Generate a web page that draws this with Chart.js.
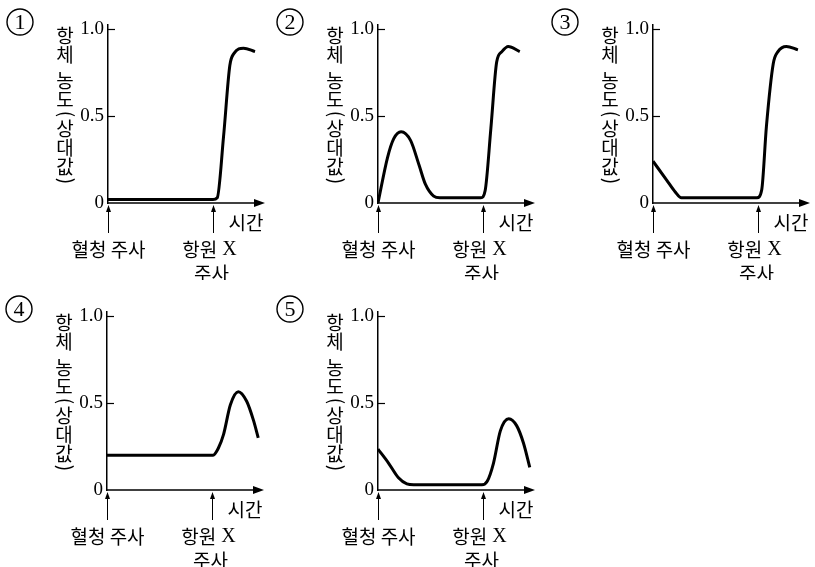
<!DOCTYPE html>
<html lang="ko">
<head>
<meta charset="utf-8">
<script src="https://cdn.jsdelivr.net/npm/chart.js@4.4.1/dist/chart.umd.min.js"></script>
<style>
  html, body { margin: 0; padding: 0; background: #fff; }
  #wrap { position: relative; width: 815px; height: 567px; overflow: hidden; }
  canvas { position: absolute; }
</style>
</head>
<body>
<div id="wrap">
  <canvas id="c1" width="270" height="280" style="left:0px;top:0px"></canvas>
  <canvas id="c2" width="270" height="280" style="left:270px;top:0px"></canvas>
  <canvas id="c3" width="270" height="280" style="left:545px;top:0px"></canvas>
  <canvas id="c4" width="270" height="280" style="left:-1px;top:287px"></canvas>
  <canvas id="c5" width="270" height="280" style="left:270px;top:287px"></canvas>
</div>
<script>
// labels
const panelNumbers = ["1", "2", "3", "4", "5"];
const yTicks = [0, 0.5, 1.0];
const yTitle = "항체 농도(상대값)";
const xTitle = "시간";
const eventTimes = [0, 10];             // 혈청 주사, 항원 X 주사
const eventLabels = [["혈청 주사"], ["항원 X", "주사"]];

// curves: time (arbitrary units) vs relative antibody concentration
const time1 = [0, 10, 10.4, 11.0, 11.6, 12.0, 12.9, 14.0];
const conc1 = [0.02, 0.02, 0.03, 0.38, 0.79, 0.86, 0.89, 0.87];

const time2 = [0, 0.9, 1.5, 2.2, 3.1, 3.9, 4.5, 5.3, 5.9, 9.8, 10.2, 10.75, 11.3, 11.8, 12.4, 13.5];
const conc2 = [0, 0.26, 0.37, 0.41, 0.36, 0.22, 0.11, 0.04, 0.03, 0.03, 0.07, 0.43, 0.81, 0.87, 0.90, 0.87];

const time3 = [0, 1.3, 2.1, 2.7, 9.9, 10.35, 10.8, 11.45, 11.9, 12.7, 13.8];
const conc3 = [0.24, 0.132, 0.065, 0.03, 0.03, 0.075, 0.44, 0.80, 0.87, 0.90, 0.88];

const time4 = [0, 10.1, 10.6, 11.1, 11.75, 12.5, 13.3, 13.95, 14.4];
const conc4 = [0.2, 0.2, 0.24, 0.32, 0.49, 0.565, 0.51, 0.40, 0.30];

const time5 = [0, 1.0, 1.95, 2.75, 3.4, 9.9, 10.4, 11.0, 11.65, 12.45, 13.2, 13.85, 14.45];
const conc5 = [0.235, 0.155, 0.07, 0.035, 0.03, 0.03, 0.05, 0.155, 0.34, 0.41, 0.37, 0.27, 0.13];

const curves = [[time1, conc1], [time2, conc2], [time3, conc3], [time4, conc4], [time5, conc5]];

const serif = "'Liberation Serif', 'DejaVu Serif', serif";
const hangul = "'Noto Sans CJK KR', 'Noto Sans', sans-serif";

// axes, arrows, vertical title, event markers
const decorations = {
  id: "decorations",
  afterDraw(chart, args, opts) {
    const { ctx, chartArea, scales: { x, y } } = chart;
    const xa = x.getPixelForValue(0);
    const y0 = y.getPixelForValue(0);
    ctx.save();
    ctx.strokeStyle = "#000";
    ctx.fillStyle = "#000";

    // short inner ticks on the y axis
    ctx.lineWidth = 1.2;
    yTicks.filter(v => v > 0).forEach(v => {
      const py = Math.round(y.getPixelForValue(v)) + 0.5;
      ctx.beginPath();
      ctx.moveTo(xa, py);
      ctx.lineTo(xa + 7, py);
      ctx.stroke();
    });

    // time axis with arrow head
    const tip = chartArea.right;
    ctx.lineWidth = 1.5;
    ctx.beginPath();
    ctx.moveTo(xa - 1, y0);
    ctx.lineTo(tip - 6, y0);
    ctx.stroke();
    ctx.beginPath();
    ctx.moveTo(tip, y0);
    ctx.lineTo(tip - 11, y0 - 4);
    ctx.lineTo(tip - 11, y0 + 4);
    ctx.closePath();
    ctx.fill();

    ctx.font = "19px " + hangul;
    ctx.textAlign = "center";
    ctx.textBaseline = "middle";
    ctx.fillText(xTitle, xa + 138, y0 + 20);

    // injection markers
    eventTimes.forEach((t, i) => {
      const px = Math.round(x.getPixelForValue(t)) + 0.5;
      ctx.lineWidth = 1;
      ctx.beginPath();
      ctx.moveTo(px, y0 + 6);
      ctx.lineTo(px, y0 + 30);
      ctx.stroke();
      ctx.beginPath();
      ctx.moveTo(px, y0 + 2);
      ctx.lineTo(px - 2.5, y0 + 9);
      ctx.lineTo(px + 2.5, y0 + 9);
      ctx.closePath();
      ctx.fill();
      eventLabels[i].forEach((line, j) => {
        const dx = i === 0 ? 0 : (j === 0 ? -4 : -2);
        drawMixed(ctx, line, px + dx, y0 + 47 + j * 24);
      });
    });

    // vertical y title
    const tx = xa - 43;
    let ty = chartArea.top + 1;
    ctx.font = "19px " + hangul;
    for (const ch of yTitle) {
      if (ch === " ") { ty += 7; continue; }
      const paren = ch === "(" || ch === ")";
      const adv = paren ? 10 : 19;
      const cy = ty + adv / 2;
      if (paren) {
        ctx.save();
        ctx.translate(tx, cy);
        ctx.rotate(Math.PI / 2);
        ctx.fillText(ch, 0, 0);
        ctx.restore();
      } else {
        ctx.fillText(ch, tx, cy);
      }
      ty += adv;
    }

    // panel number in a circle
    const cx = xa - 88, cyc = chartArea.top - 3;
    ctx.lineWidth = 1.4;
    ctx.beginPath();
    ctx.arc(cx, cyc, 13, 0, Math.PI * 2);
    ctx.stroke();
    ctx.font = "22px " + serif;
    ctx.fillText(opts.num, cx, cyc + 1);

    ctx.restore();
  }
};

// hangul text with the latin letter in serif
function drawMixed(ctx, text, cx, cy) {
  const parts = text.split(/( X)/).filter(s => s.length);
  const fonts = parts.map(s => s === " X" ? "20px " + serif : "19px " + hangul);
  let w = 0;
  const widths = parts.map((s, k) => { ctx.font = fonts[k]; const m = ctx.measureText(s).width; w += m; return m; });
  let px = cx - w / 2;
  ctx.textAlign = "left";
  parts.forEach((s, k) => {
    ctx.font = fonts[k];
    ctx.fillText(s, px, cy);
    px += widths[k];
  });
  ctx.textAlign = "center";
}

curves.forEach(([times, values], i) => {
  const ctx = document.getElementById("c" + (i + 1)).getContext("2d");
  new Chart(ctx, {
    type: "line",
    data: {
      datasets: [{
        data: times.map((t, k) => ({ x: t, y: values[k] })),
        borderColor: "#000",
        borderWidth: 3,
        pointRadius: 0,
        cubicInterpolationMode: "monotone",
        fill: false
      }]
    },
    options: {
      responsive: false,
      animation: false,
      layout: { padding: { left: 68, top: 25, right: 5, bottom: 77 } },
      plugins: {
        legend: { display: false },
        tooltip: { enabled: false },
        decorations: { num: panelNumbers[i] }
      },
      scales: {
        x: {
          type: "linear",
          min: 0,
          max: 14.95,
          ticks: { display: false },
          grid: { display: false, drawTicks: false },
          border: { display: false },
          afterFit: s => { s.height = 0; }
        },
        y: {
          min: 0,
          max: 1.023,
          afterBuildTicks: s => { s.ticks = yTicks.map(v => ({ value: v })); },
          afterFit: s => { s.width = 40; },
          ticks: {
            padding: 4,
            color: "#000",
            font: { family: serif, size: 19 },
            callback: v => v === 0 ? "0" : v.toFixed(1)
          },
          grid: { display: false, drawTicks: false },
          border: { display: true, color: "#000", width: 1.5 }
        }
      }
    },
    plugins: [decorations]
  });
});
</script>
</body>
</html>
